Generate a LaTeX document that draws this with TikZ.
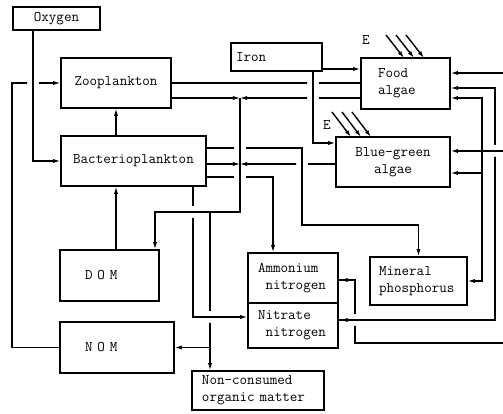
\documentclass[tikz,border=0pt]{standalone}
\usepackage{fontspec}
\usetikzlibrary{arrows.meta,decorations.markings}

\newcommand{\labfont}{\ttfamily\fontsize{12.5}{14.5}\selectfont}
% small hole where a line passes under another one
\newcommand{\hole}[2]{(#1-6,#2-6) rectangle (#1+6,#2+6)}

\tikzset{
  box/.style={draw, line width=1.5pt, inner ysep=0pt, font=\labfont},
  link/.style={line width=1pt},
  flow/.style={line width=1pt, -{Latex[length=6pt,width=3.6pt]}},
  both/.style={line width=1pt, {Latex[length=6pt,width=3.6pt]}-{Latex[length=6pt,width=3.6pt]}},
  outmark/.style={postaction={decorate}, decoration={markings,
      mark=at position 12pt with {\arrow{Latex[length=6pt,width=3.6pt]}}}},
  under/.style={even odd rule},
}

\begin{document}
\begin{tikzpicture}[x=0.3mm,y=-0.3mm]
  \path[use as bounding box] (0,0) rectangle (503,414);

  \node[box, minimum width=2.61cm, minimum height=0.69cm] (oxy) at (56.5,18.5) {Oxygen};
  \node[box, minimum width=3.3cm, minimum height=1.5cm] (zoo) at (116,83) {Zooplankton};
  \node[box, minimum width=4.35cm, minimum height=1.5cm] (bact) at (133.5,161) {Bacterioplankton};
  \node[box, minimum height=0.84cm, inner xsep=0.15cm, text width=2.43cm, align=left] (iron) at (276.5,57) {Iron};
  \node[box, minimum height=1.53cm, inner xsep=0.51cm, text width=1.65cm, align=left] (food) at (405.5,83.5) {Food\\algae};
  \node[box, minimum width=3.42cm, minimum height=1.5cm, align=center] (bg) at (393,162) {Blue-green\\algae};
  \node[box, minimum height=1.53cm, inner xsep=0.75cm, text width=1.47cm, align=left] (dom) at (109.5,275.5) {D O M};
  \node[box, minimum height=1.53cm, inner xsep=0.75cm, text width=1.92cm, align=left] (nom) at (117,347.5) {N O M};
  \node[box, minimum height=1.5cm, inner xsep=0.3cm, text width=2.1cm, align=left] (amm) at (293,278) {Ammonium\\\hphantom{A}nitrogen};
  \node[box, minimum height=1.35cm, inner xsep=0.3cm, text width=2.1cm, align=left] (nit) at (293,325.5) {Nitrate\\\hphantom{A}nitrogen};
  \node[box, minimum height=1.44cm, inner xsep=0.27cm, text width=2.37cm, align=left] (min) at (418.5,281) {Mineral\\phosphorus};
  \node[box, minimum height=1.17cm, inner xsep=0.3cm, text width=3.36cm, align=left] (noc) at (258,390.5) {Non-consumed\\organic matter};

  \node[font=\labfont] (eF) at (366,40) {E};
  \node[font=\labfont] (eB) at (327,125) {E};

  % corners and junctions
  \coordinate (ll) at (12,83);
  \coordinate (ox) at (33,161);
  \coordinate (fe) at (322,69);
  \coordinate (fb) at (313,143);
  \coordinate (j1) at (240,98);
  \coordinate (j2) at (240,164);
  \coordinate (dk) at (240,212);
  \coordinate (dd) at (155,212);
  \coordinate (nb) at (210,212);
  \coordinate (bm) at (302,148);
  \coordinate (bp) at (302,225);
  \coordinate (ba) at (273,177);
  \coordinate (bn) at (193,317);
  \coordinate (a1) at (355,280);
  \coordinate (a2) at (355,343);
  \coordinate (o1) at (506,73);
  \coordinate (o2) at (506,343);
  \coordinate (o5) at (506,151);
  \coordinate (n1) at (495,88);
  \coordinate (n2) at (495,320);
  \coordinate (p1) at (482,98);
  \coordinate (p2) at (482,281);
  \coordinate (p3) at (482,173);

  % lines broken where they pass under others
  \begin{scope}[under]
    \clip (-40,-40) rectangle (560,460) \hole{33}{83};
    \draw[flow] (nom.west) -| (ll) -- (zoo.west);
  \end{scope}
  \begin{scope}[under]
    \clip (-40,-40) rectangle (560,460) \hole{313}{83} \hole{313}{98};
    \draw[link] (zoo.east) -- (food.west |- zoo.east);
    \draw[flow] (food.west |- j1) -- (j1);
  \end{scope}
  \begin{scope}[under]
    \clip (-40,-40) rectangle (560,460) \hole{302}{164};
    \draw[flow] (bg.west |- j2) -- (j2);
  \end{scope}
  \begin{scope}[under]
    \clip (-40,-40) rectangle (560,460) \hole{240}{148} \hole{240}{177};
    \draw[flow] (bact.east |- bm) -- (bm) -- (bp) -| (min.north);
    \draw[flow] (bact.east |- ba) -- (ba) -- (amm.north -| ba);
  \end{scope}
  \begin{scope}[under]
    \clip (-40,-40) rectangle (560,460) \hole{193}{212};
    \draw[flow] (bact.south -| bn) -- (bn) -- (nit.west |- bn);
  \end{scope}
  \begin{scope}[under]
    \clip (-40,-40) rectangle (560,460) \hole{210}{317};
    \draw[flow] (nb) -- (noc.north -| nb);
  \end{scope}
  \begin{scope}[under]
    \clip (-40,-40) rectangle (560,460) \hole{355}{320};
    \draw[flow, outmark] (amm.east |- a1) -- (a1) -- (a2) -- (o2) -- (o1) -- (food.east |- o1);
  \end{scope}
  \begin{scope}[under]
    \clip (-40,-40) rectangle (560,460) \hole{495}{151};
    \draw[flow, outmark] (nit.east |- n2) -- (n2) -- (n1) -- (food.east |- n1);
  \end{scope}

  % unbroken lines
  \draw[flow] (oxy.south -| ox) -- (ox) -- (bact.west |- ox);
  \draw[flow] (iron.east |- fe) -- (food.west |- fe);
  \draw[flow] (iron.south -| fb) -- (fb) -- (bg.west |- fb);
  \draw[flow] (bact.north -| zoo.south) -- (zoo.south);
  \draw[flow] (dom.north -| zoo.south) -- (bact.south -| zoo.south);
  \draw[flow] (zoo.east |- j1) -- (j1);
  \draw[flow] (bact.east |- j2) -- (j2);
  \draw[flow] (j1) -- (dk) -- (dd) -- (dom.north -| dd);
  \draw[flow] (nb |- nom.east) -- (nom.east);
  \draw[flow] (o5) -- (bg.east |- o5);
  \draw[both] (min.east) -- (p2) -- (p1) -- (food.east |- p1);
  \draw[flow] (p3) -- (bg.east |- p3);

  % light
  \foreach \d in {0,10,20}
    \draw[flow, line width=1.2pt] (386+\d,35) -- ++(18,23);
  \foreach \d in {0,10,20}
    \draw[flow, line width=1.2pt] (332+\d,112) -- ++(19,25);
\end{tikzpicture}
\end{document}
